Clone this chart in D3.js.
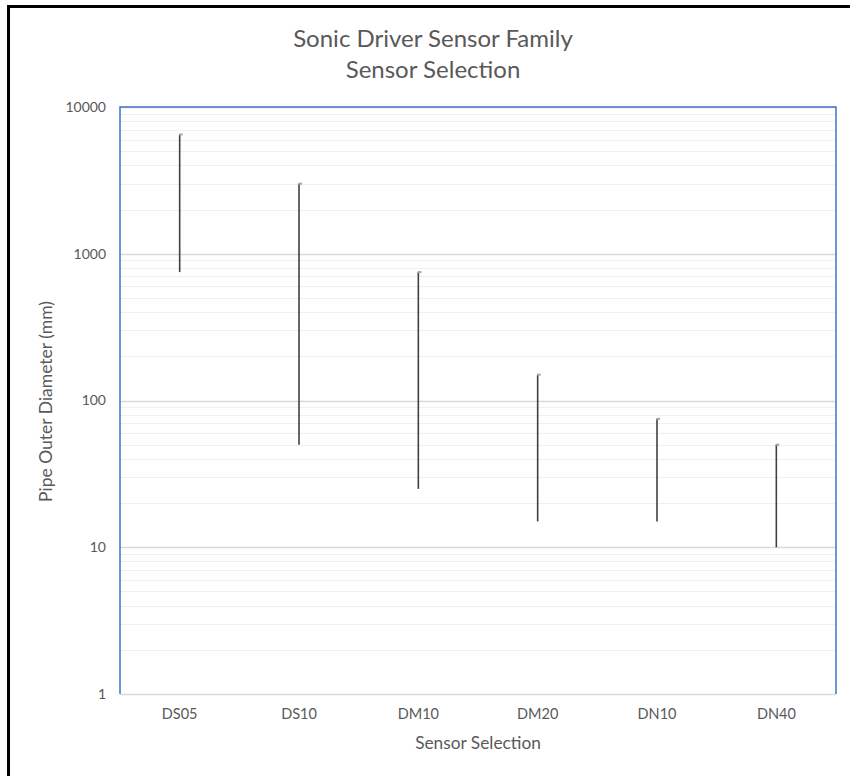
<!DOCTYPE html>
<html><head><meta charset="utf-8">
<script src="https://cdn.jsdelivr.net/npm/d3@7"></script>
<style>body{margin:0;background:#fff}svg{display:block}</style>
</head><body>
<script>
const categories = ["DS05","DS10","DM10","DM20","DN10","DN40"];
const highValues = [6500, 3000, 750, 150, 75, 50];
const lowValues  = [750, 50, 25, 15, 15, 10];
const yTicks = [1, 10, 100, 1000, 10000];
const titleLines = ["Sonic Driver Sensor Family", "Sensor Selection"];
const xTitle = "Sensor Selection";
const yTitle = "Pipe Outer Diameter (mm)";

const W = 850, H = 776;
const m = {left:120, right:836, top:107, bottom:694};
const svg = d3.select("body").append("svg").attr("width", W).attr("height", H);
const font = "Lato, 'Open Sans', sans-serif";

// outer frame
svg.append("rect").attr("x",8.5).attr("y",6.5).attr("width",W+20).attr("height",H+20)
  .attr("fill","none").attr("stroke","#000").attr("stroke-width",3);

const x = d3.scaleBand().domain(categories).range([m.left, m.right]);
const y = d3.scaleLog().domain([1, 10000]).range([m.bottom, m.top]);

// minor gridlines
const minor = [];
for (let d = 1; d < 10000; d *= 10) for (let k = 2; k <= 9; k++) minor.push(d*k);
svg.append("g").selectAll("line").data(minor).join("line")
  .attr("x1", m.left).attr("x2", m.right)
  .attr("y1", d => Math.round(y(d))+0.5).attr("y2", d => Math.round(y(d))+0.5)
  .attr("stroke", "#f0f0f0").attr("stroke-width", 1.2);
// major gridlines
svg.append("g").selectAll("line").data(yTicks).join("line")
  .attr("x1", m.left).attr("x2", m.right)
  .attr("y1", d => Math.round(y(d))+0.5).attr("y2", d => Math.round(y(d))+0.5)
  .attr("stroke", "#d9d9d9").attr("stroke-width", 1.3);

// plot border (blue left/top/right)
svg.append("path")
  .attr("d", `M${m.left},${m.bottom}V${m.top}H${m.right}V${m.bottom}`)
  .attr("fill","none").attr("stroke","#4472c4").attr("stroke-width",1.5);

// y axis labels
const yAxis = d3.axisLeft(y).tickValues(yTicks).tickSize(0).tickPadding(14).tickFormat(d3.format("d"));
const gy = svg.append("g").attr("transform", `translate(${m.left},0)`).call(yAxis);
gy.select(".domain").remove();
gy.selectAll("text").attr("font-family", font).attr("font-size", 14).attr("fill", "#595959");

// x axis labels
const xAxis = d3.axisBottom(x).tickSize(0).tickPadding(15);
const gx = svg.append("g").attr("transform", `translate(0,${m.bottom})`).call(xAxis);
gx.select(".domain").remove();
gx.selectAll("text").attr("font-family", font).attr("font-size", 14.5).attr("fill", "#595959");

// high-low lines
const data = categories.map((c,i)=>({c, hi:highValues[i], lo:lowValues[i]}));
svg.append("g").selectAll("line").data(data).join("line")
  .attr("x1", d => x(d.c)+x.bandwidth()/2).attr("x2", d => x(d.c)+x.bandwidth()/2)
  .attr("y1", d => y(d.hi)).attr("y2", d => y(d.lo))
  .attr("stroke", "#404040").attr("stroke-width", 1.6);
svg.append("g").selectAll("line").data(data).join("line")
  .attr("x1", d => x(d.c)+x.bandwidth()/2-0.5).attr("x2", d => x(d.c)+x.bandwidth()/2+3)
  .attr("y1", d => y(d.hi)).attr("y2", d => y(d.hi))
  .attr("stroke", "#a6a6a6").attr("stroke-width", 2);

// titles
svg.append("text").attr("x", 433).attr("y", 47).attr("text-anchor","middle")
  .attr("font-family", font).attr("font-size", 24).attr("fill", "#595959").text(titleLines[0]);
svg.append("text").attr("x", 433).attr("y", 78).attr("text-anchor","middle")
  .attr("font-family", font).attr("font-size", 24).attr("fill", "#595959").text(titleLines[1]);
svg.append("text").attr("x", (m.left+m.right)/2).attr("y", 749).attr("text-anchor","middle")
  .attr("font-family", font).attr("font-size", 17.3).attr("fill", "#595959").text(xTitle);
svg.append("text").attr("transform", `translate(52,${(m.top+m.bottom)/2 + 1}) rotate(-90)`)
  .attr("text-anchor","middle")
  .attr("font-family", font).attr("font-size", 17.5).attr("fill", "#595959").text(yTitle);
</script>
</body></html>
